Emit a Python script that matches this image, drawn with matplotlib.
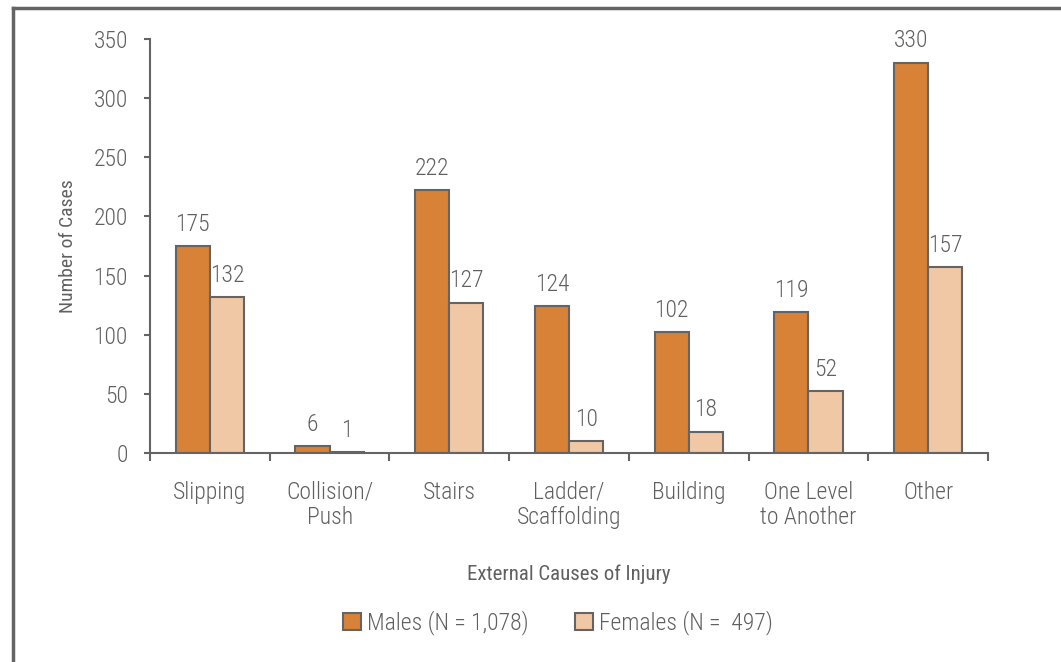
import matplotlib.pyplot as plt
import numpy as np
from matplotlib.lines import Line2D

plt.rcParams['font.family'] = ['Liberation Sans Narrow', 'Roboto Condensed', 'Arial Narrow',
                               'Liberation Sans', 'DejaVu Sans']
plt.rcParams['font.weight'] = 'light'

categories = ['Slipping', 'Collision/\nPush', 'Stairs', 'Ladder/\nScaffolding',
              'Building', 'One Level\nto Another', 'Other']
males = [175, 6, 222, 124, 102, 119, 330]
females = [132, 1, 127, 10, 18, 52, 157]
labels = ['Males (N = 1,078)', 'Females (N =  497)']

text_col = '#606060'
edge_col = '#646464'
male_col = '#d88237'
female_col = '#f0c8a5'

fig = plt.figure(figsize=(10.61, 6.62), dpi=100)
ax = fig.add_axes([150 / 1061, 1 - 453 / 662, 838 / 1061, 414 / 662])

x = np.arange(len(categories))
w = 0.285
b1 = ax.bar(x - w / 2, males, w, color=male_col, edgecolor=edge_col, linewidth=1.5,
            label=labels[0])
b2 = ax.bar(x + w / 2, females, w, color=female_col, edgecolor=edge_col, linewidth=1.5,
            label=labels[1])

# value labels above bars
for bars, vals in ((b1, males), (b2, females)):
    for bar, v in zip(bars, vals):
        ax.annotate(str(v), (bar.get_x() + bar.get_width() / 2, v), xytext=(0, 11),
                    textcoords='offset points', ha='center', va='baseline',
                    fontsize=17, color=text_col)

ax.set_xlim(-0.5, len(categories) - 0.5)
ax.set_ylim(0, 350)
ax.set_yticks(range(0, 351, 50))
ax.set_xticks(np.arange(-0.5, len(categories)), minor=False)
ax.set_xticklabels([])
ax.set_xticks(x, minor=True)
ax.set_xticklabels(categories, minor=True, fontsize=17, color=text_col, linespacing=1.15)
ax.tick_params(axis='x', which='minor', length=0, pad=20)
ax.tick_params(axis='x', which='major', direction='out', length=5.5, width=1.5,
               color=edge_col)
ax.tick_params(axis='y', direction='out', length=4, width=1.5, color=edge_col,
               labelsize=17, labelcolor=text_col, pad=12)

for s in ('top', 'right'):
    ax.spines[s].set_visible(False)
for s in ('left', 'bottom'):
    ax.spines[s].set_color(edge_col)
    ax.spines[s].set_linewidth(1.5)

ax.set_ylabel('Number of Cases', fontsize=14, color=text_col, labelpad=12)
ax.set_xlabel('External Causes of Injury', fontsize=15, color=text_col, labelpad=25)

leg = fig.legend(handles=[b1, b2], loc='center', bbox_to_anchor=(558 / 1061, 1 - 623 / 662),
                 ncol=2, frameon=False, fontsize=17, handlelength=0.76, handleheight=0.76,
                 handletextpad=0.25, columnspacing=2.0, labelcolor=text_col)

# outer frame (left and top edges only)
fig.add_artist(Line2D([13 / 1061, 13 / 1061], [0, 1 - 8 / 662], color=edge_col,
                      linewidth=2.5, transform=fig.transFigure))
fig.add_artist(Line2D([13 / 1061, 1], [1 - 8 / 662, 1 - 8 / 662], color=edge_col,
                      linewidth=2.5, transform=fig.transFigure))

fig.savefig('out.png', dpi=100)
